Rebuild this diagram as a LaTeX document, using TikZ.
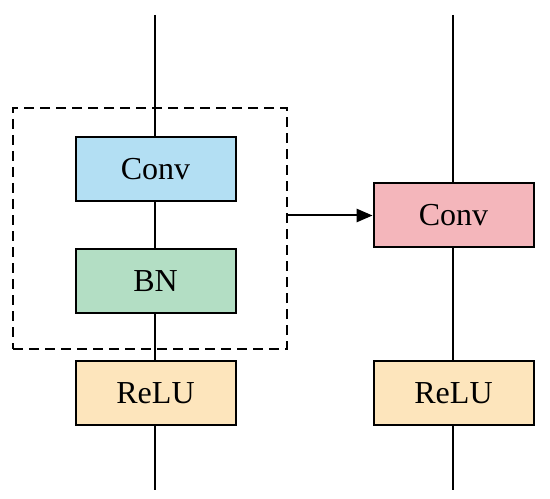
\documentclass[tikz,border=0pt]{standalone}
\usepackage{fontspec}
\setmainfont{Liberation Serif}
\usetikzlibrary{arrows.meta}
\definecolor{cblue}{HTML}{B3DFF3}
\definecolor{cgreen}{HTML}{B3DEC4}
\definecolor{corange}{HTML}{FDE5BC}
\definecolor{cpink}{HTML}{F4B6BB}
\begin{document}
\begin{tikzpicture}[x=0.75pt,y=-0.75pt,
  blk/.style={draw=black,line width=1.5pt,minimum width=120pt,minimum height=48pt,inner sep=0pt,font=\fontsize{24}{28}\selectfont},
  ln/.style={line width=1.5pt,draw=black}]
\useasboundingbox (0,0) rectangle (550,499);
\coordinate (ltop) at (155,15);
\coordinate (lbot) at (155,490);
\coordinate (rtop) at (453,15);
\coordinate (rbot) at (453,490);
\draw[ln] (ltop) -- (lbot);
\draw[ln] (rtop) -- (rbot);
\node[blk,fill=cblue] (conv1) at (155.5,169) {Conv};
\node[blk,fill=cgreen] (bn) at (155.5,281) {BN};
\node[blk,fill=corange] (relu1) at (155.5,393) {ReLU};
\node[blk,fill=cpink] (conv2) at (453.5,215.5) {Conv};
\node[blk,fill=corange] (relu2) at (453.5,393) {ReLU};
\node[draw=black,line width=1.5pt,dash pattern=on 7.5pt off 4.5pt,minimum width=205.5pt,minimum height=180.75pt,inner sep=0pt] (grp) at (150,228.5) {};
\draw[ln,-{Triangle[length=12pt,width=10pt]}] (grp.east |- conv2.west) -- (conv2.west);
\end{tikzpicture}
\end{document}
